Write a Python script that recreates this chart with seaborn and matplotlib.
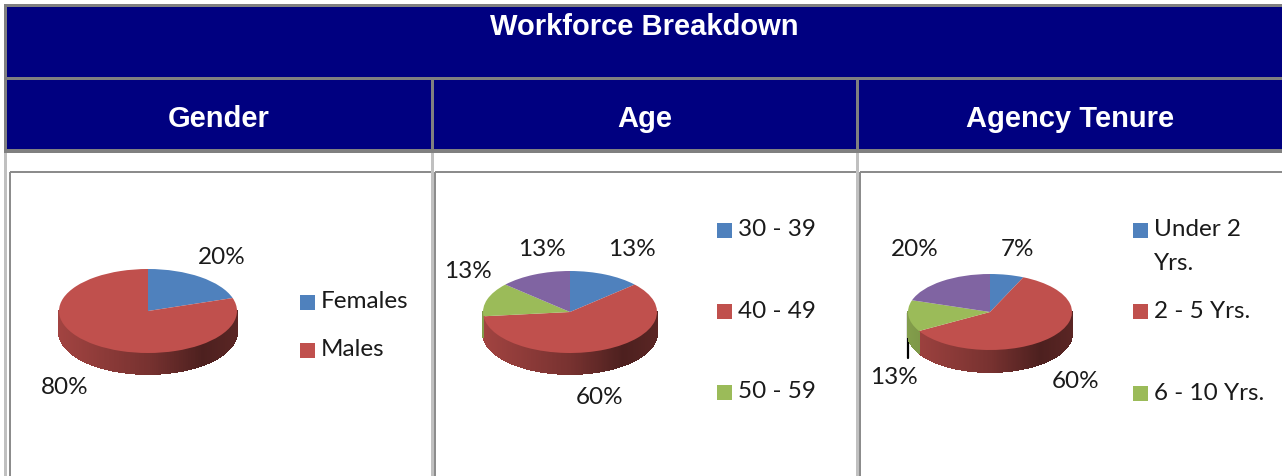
import numpy as np
import matplotlib
matplotlib.use('Agg')
import matplotlib.pyplot as plt
from matplotlib.patches import Rectangle
from matplotlib.collections import PolyCollection
from matplotlib.colors import to_rgb
import seaborn as sns

# data (counts out of 15 staff)
gender_labels = ['Females', 'Males']
gender_counts = [3, 12]
age_labels = ['30 - 39', '40 - 49', '50 - 59', '60 +']
age_counts = [2, 9, 2, 2]
tenure_labels = ['Under 2\nYrs.', '2 - 5 Yrs.', '6 - 10 Yrs.', '11 + Yrs.']
tenure_counts = [1, 9, 2, 3]
headers = ['Gender', 'Age', 'Agency Tenure']
title = 'Workforce Breakdown'

sns.set_theme(style='white')
plt.rcParams['font.family'] = ['Lato', 'DejaVu Sans']
colors = sns.color_palette(['#4F81BD', '#C0504D', '#9BBB59', '#8064A2'])

W, H = 1282, 476
NAVY = '#000080'
fig = plt.figure(figsize=(W / 100, H / 100), dpi=100)
fig.patch.set_facecolor('white')

# background axes in pixel units for the table frame
bg = fig.add_axes([0, 0, 1, 1])
bg.set_xlim(0, W)
bg.set_ylim(H, 0)
bg.axis('off')

bg.add_patch(Rectangle((4, 4), W - 4, 149, color='#808080', lw=0))
bg.add_patch(Rectangle((7, 7), W - 7, 70, color=NAVY, lw=0))
cells = [(7, 431), (434, 856), (859, W)]
for (x0, x1), head in zip(cells, headers):
    bg.add_patch(Rectangle((x0, 80), x1 - x0, 69, color=NAVY, lw=0))
    bg.text((x0 + x1) / 2, 127, head, color='white', ha='center', va='baseline',
            fontsize=21, fontweight='bold', family='Liberation Sans')
bg.text((7 + W) / 2, 35, title, color='white', ha='center', va='baseline',
        fontsize=21, fontweight='bold', family='Liberation Sans')

# chart boxes
for x0, x1 in [(10, 432), (435, 857), (860, W + 10)]:
    bg.add_patch(Rectangle((x0, 172), x1 - x0, 400, fill=False,
                           edgecolor='#8c8c8c', lw=1.44, zorder=2))
for x0 in [4, 431, 856]:
    bg.add_patch(Rectangle((x0, 153), 3, H - 153, color='#c0c0c0', lw=0, zorder=3))


def pie3d(cx, cy, rx, ry, depth, counts):
    left, right = cx - rx - 4, cx + rx + 4
    top, bottom = cy - ry - 4, cy + ry + depth + 4
    ax = fig.add_axes([left / W, 1 - bottom / H, (right - left) / W, (bottom - top) / H])
    fracs = np.array(counts) / sum(counts)
    edges = 90 - 360 * np.concatenate([[0], np.cumsum(fracs)])
    d = depth / ry
    verts, fcs = [], []
    for i in range(len(counts)):
        ts = np.linspace(edges[i], edges[i + 1], 240)
        for a, b in zip(ts[:-1], ts[1:]):
            mid = np.deg2rad((a + b) / 2)
            if np.sin(mid) > 0:
                continue
            ta, tb = np.deg2rad(a), np.deg2rad(b)
            verts.append([(np.cos(ta), np.sin(ta)), (np.cos(tb), np.sin(tb)),
                          (np.cos(tb), np.sin(tb) - d), (np.cos(ta), np.sin(ta) - d)])
            shade = np.interp(np.cos(mid), [-1, 0, 0.6, 1], [0.84, 0.62, 0.4, 0.47])
            fcs.append(tuple(np.array(to_rgb(colors[i])) * shade))
    ax.add_collection(PolyCollection(verts, facecolors=fcs, edgecolors=fcs,
                                     linewidths=0.6, antialiaseds=False, zorder=1))
    wedges, _ = ax.pie(counts, colors=colors[:len(counts)], startangle=90,
                       counterclock=False, wedgeprops=dict(linewidth=0))
    for w in wedges:
        w.set_zorder(2)
    ax.set_aspect('auto')
    ax.set_xlim((left - cx) / rx, (right - cx) / rx)
    ax.set_ylim(-(bottom - cy) / ry, (cy - top) / ry)
    ax.axis('off')
    return ax


def pct_labels(counts, positions):
    total = sum(counts)
    for c, (x, y) in zip(counts, positions):
        bg.text(x, y, f'{round(100 * c / total)}%', ha='center', va='center',
                fontsize=17.5, color='#1a1a1a', zorder=5)


def legend(labels, sq_x, y0, step):
    for i, lab in enumerate(labels):
        yc = y0 + i * step
        bg.add_patch(Rectangle((sq_x, yc - 7.5), 15, 15, color=colors[i], lw=0, zorder=5))
        for k, line in enumerate(lab.split('\n')):
            bg.text(sq_x + 21, yc + k * 33, line, ha='left', va='center',
                    fontsize=17.5, color='#1a1a1a', zorder=5)


# Gender
pie3d(148, 311, 89, 42, 21, gender_counts)
pct_labels(gender_counts, [(222, 257), (65, 388)])
legend(gender_labels, 300, 302, 48)

# Age
pie3d(570, 312, 87, 41, 21, age_counts)
pct_labels(age_counts, [(632, 249), (600, 398), (468, 271), (542, 249)])
legend(age_labels[:3], 717, 230, 81)

# Agency tenure
pie3d(990, 312, 82, 38, 22, tenure_counts)
pct_labels(tenure_counts, [(1018, 250), (1076, 382), (894, 378), (915, 250)])
bg.plot([908, 908], [313, 358], color='black', lw=1.6, zorder=6)
legend(tenure_labels[:3], 1133, 230, 81.5)

fig.savefig('out.png', dpi=100)
